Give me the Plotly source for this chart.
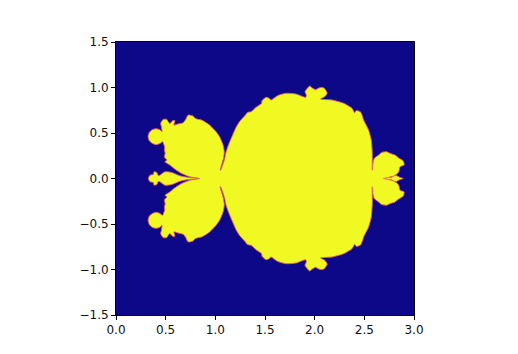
import plotly.graph_objects as go

# Outline of the upper half of the yellow region (mirrored about y=0)
body_x = [.843,.743,.660,.593,.543,.493,.513,.487,.495,.487,.490,.468,.443,.403,.363,.335,.323,.335,.363,.403,
          .443,.462,.458,.450,.476,.510,.528,.543,.570,.593,.583,.623,.676,.703,.726,.776,.793,.826,.863,.893,.943,
          .976,1.003,1.043,1.078,1.090,1.083,1.066,1.048,1.053,1.073,1.093,1.105,1.128,1.160,1.210,1.243,1.303,
          1.326,1.360,1.410,1.466,1.470,1.510,1.543,1.560,1.626,1.710,1.810,1.910,1.916,1.903,1.926,1.950,1.976,
          2.010,2.026,2.060,2.093,2.126,2.103,2.060,2.176,2.293,2.376,2.403,2.416,2.460,2.483,2.493,2.543,2.570,
          2.580,2.580,2.583,2.600,2.643,2.676,2.726,2.760,2.810,2.843,2.893,2.900,2.860,2.845,2.805,2.745,2.693]
body_y = [0,.019,.056,.103,.147,.184,.202,.235,.279,.312,.345,.405,.385,.372,.388,.415,.460,.505,.535,.548,
          .535,.515,.565,.606,.650,.650,.620,.604,.635,.635,.587,.598,.613,.650,.697,.686,.664,.650,.642,.624,.587,
          .550,.520,.459,.367,.290,.224,.158,.092,.092,.147,.213,.279,.356,.441,.565,.624,.697,
          .727,.734,.782,.826,.855,.892,.881,.862,.910,.936,.929,.892,.917,.954,.991,1.016,.995,
          .975,.985,1.000,.995,.940,.900,.873,.862,.826,.771,.723,.745,.734,.679,.642,.532,.422,
          .279,.092,.147,.221,.257,.287,.294,.276,.257,.228,.191,.147,.130,.070,.032,.012,0]

left_spine_x = [.326,.343,.376,.383,.410,.426,.443,.493,.560,.643,.726,.880]
left_spine_y = [0,.037,.045,.074,.067,.032,.037,.074,.067,.030,.012,0]

right_spine_x = [2.68,2.723,2.773,2.803,2.823,2.853,2.893]
right_spine_y = [0,.010,.015,.032,.032,.015,0]

tick_x = [0.0, 0.5, 1.0, 1.5, 2.0, 2.5, 3.0]
tick_y = [-1.5, -1.0, -0.5, 0.0, 0.5, 1.0, 1.5]

NAVY = "#0d0887"
YELLOW = "#f0f921"
FRINGE = "#e8606a"


def mirrored(xs, ys):
    return xs + xs[::-1], ys + [-v for v in ys[::-1]]


fig = go.Figure()
for xs, ys in ((left_spine_x, left_spine_y), (right_spine_x, right_spine_y), (body_x, body_y)):
    mx, my = mirrored(xs, ys)
    fig.add_trace(go.Scatter(x=mx, y=my, mode="lines", fill="toself", fillcolor=YELLOW,
                             line=dict(color=FRINGE, width=0.9, shape="spline", smoothing=0.6),
                             hoverinfo="skip", showlegend=False))

axis = dict(showgrid=False, zeroline=False, showline=True, linecolor="#000", linewidth=1, mirror=True,
            ticks="outside", ticklen=4, tickwidth=1, tickcolor="#000", tickformat=".1f",
            tickfont=dict(family="DejaVu Sans", size=12, color="#111"))
fig.update_layout(width=518, height=354, autosize=False, showlegend=False,
                  margin=dict(l=115.5, r=103.5, t=42, b=39), paper_bgcolor="white", plot_bgcolor=NAVY,
                  xaxis=dict(axis, range=[0, 3], tickvals=tick_x),
                  yaxis=dict(axis, range=[-1.5, 1.5], tickvals=tick_y))
fig.write_html("out.html", post_script="document.body.style.margin='0';",
               config={"displayModeBar": False})
